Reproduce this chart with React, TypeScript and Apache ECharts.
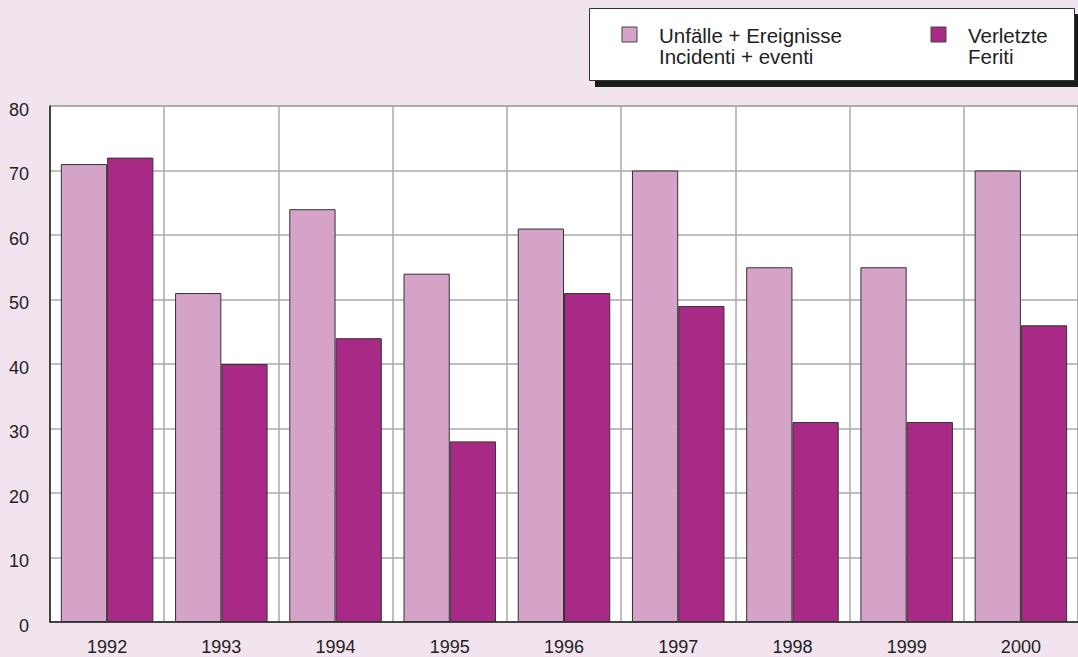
import React, { useEffect, useRef } from "react";
import * as echarts from "echarts";

const years = ["1992", "1993", "1994", "1995", "1996", "1997", "1998", "1999", "2000"];
const unfaelle = [71, 51, 64, 54, 61, 70, 55, 55, 70];
const verletzte = [72, 40, 44, 28, 51, 49, 31, 31, 46];
const seriesNames = ["Unfälle + Ereignisse", "Verletzte"];
const seriesNamesIt = ["Incidenti + eventi", "Feriti"];
const colors = ["#d6a3c8", "#a92a86"];

export default function App() {
  const ref = useRef<HTMLDivElement>(null);
  useEffect(() => {
    if (!ref.current) return;
    const chart = echarts.init(ref.current, undefined, { renderer: "svg" });
    const font = "Liberation Sans, Arial, Helvetica, sans-serif";
    const legendX = [622, 931];
    const legendGraphics: any[] = [];
    seriesNames.forEach((n, i) => {
      legendGraphics.push({
        type: "rect",
        shape: { x: legendX[i], y: 27, width: 15, height: 15 },
        style: { fill: colors[i], stroke: "#444", lineWidth: 1 },
        z: 12,
      });
      legendGraphics.push({
        type: "text",
        x: legendX[i] + 37,
        y: 35.3,
        style: { text: n, font: `20.5px ${font}`, fill: "#222", verticalAlign: "middle", align: "left" },
        z: 12,
      });
      legendGraphics.push({
        type: "text",
        x: legendX[i] + 37,
        y: 56,
        style: { text: seriesNamesIt[i], font: `20.5px ${font}`, fill: "#222", verticalAlign: "middle", align: "left" },
        z: 12,
      });
    });
    chart.setOption({
      animation: false,
      backgroundColor: "#f2e4ef",
      textStyle: { fontFamily: font },
      grid: {
        left: 50,
        top: 106,
        right: -2,
        bottom: 35,
        show: true,
        backgroundColor: "#ffffff",
        borderColor: "#777",
        borderWidth: 1,
      },
      legend: { show: false },
      graphic: [
        { type: "rect", shape: { x: 595, y: 14, width: 483, height: 73 }, style: { fill: "#1a1a1a" }, z: 10 },
        { type: "rect", shape: { x: 589.5, y: 8.5, width: 485, height: 72 }, style: { fill: "#ffffff", stroke: "#333", lineWidth: 1 }, z: 11 },
        ...legendGraphics,
      ],
      xAxis: {
        type: "category",
        data: years,
        axisLine: { lineStyle: { color: "#222", width: 1.5 } },
        axisTick: { show: false },
        axisLabel: { fontSize: 18, color: "#222", margin: 16, fontFamily: font },
        splitLine: { show: true, lineStyle: { color: "#aaa", width: 1.5 } },
      },
      yAxis: {
        type: "value",
        min: 0,
        max: 80,
        interval: 10,
        axisLine: { show: true, lineStyle: { color: "#222", width: 1.5 } },
        axisTick: { show: false },
        axisLabel: { fontSize: 18, color: "#222", margin: 21, fontFamily: font, verticalAlign: "top", lineHeight: 7 },
        splitLine: { show: true, lineStyle: { color: "#aaa", width: 1.5 } },
      },
      series: [
        {
          name: seriesNames[0],
          type: "bar",
          data: unfaelle,
          barGap: "0%",
          barCategoryGap: "19%",
          itemStyle: { color: colors[0], borderColor: "#333", borderWidth: 1 },
        },
        {
          name: seriesNames[1],
          type: "bar",
          data: verletzte,
          itemStyle: { color: colors[1], borderColor: "#333", borderWidth: 1 },
        },
      ],
    });
    return () => chart.dispose();
  }, []);
  return <div ref={ref} style={{ position: "fixed", left: 0, top: 0, width: 1078, height: 657 }} />;
}
